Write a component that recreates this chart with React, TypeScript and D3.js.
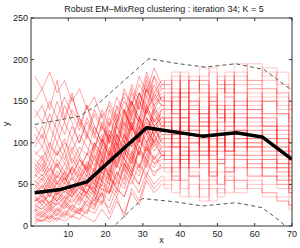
import React from 'react';
import * as d3 from 'd3';

// sample positions: zig-zag part (linear) and the step part on the right
const xLeft = [1, 3, 5, 7, 9, 11, 13, 15, 17, 19, 21, 23, 25, 27, 29, 31, 33, 35];
const xRight = [36.5, 39, 41, 43.7, 46.6, 48.9, 51, 53, 56, 60, 64, 67.9, 70.4];

const curvesLeft: number[][] = [
  [35, 30, 42, 38, 45, 40, 52, 48, 70, 95, 120, 140, 155, 130, 160, 145, 170, 150],
  [20, 25, 18, 30, 22, 35, 28, 40, 55, 48, 90, 75, 110, 95, 130, 115, 100, 120],
  [60, 75, 55, 80, 65, 90, 70, 85, 95, 110, 80, 120, 100, 140, 125, 110, 135, 120],
  [10, 15, 8, 20, 12, 25, 18, 30, 22, 45, 38, 60, 80, 70, 105, 90, 120, 100],
  [150, 165, 140, 175, 130, 160, 120, 145, 110, 135, 100, 125, 140, 115, 150, 130, 110, 140],
  [45, 55, 40, 60, 50, 70, 58, 75, 65, 100, 85, 130, 110, 160, 140, 175, 150, 165],
  [30, 35, 28, 40, 33, 38, 45, 40, 60, 55, 85, 70, 100, 125, 105, 140, 120, 130],
  [80, 70, 95, 85, 100, 90, 110, 95, 80, 105, 90, 70, 95, 80, 110, 90, 100, 85],
  [15, 10, 20, 12, 25, 18, 15, 30, 45, 35, 70, 55, 90, 75, 115, 95, 130, 110],
  [100, 120, 95, 130, 110, 140, 125, 105, 135, 115, 150, 130, 160, 145, 170, 155, 180, 165],
  [25, 20, 30, 25, 35, 28, 40, 35, 50, 45, 40, 65, 55, 85, 70, 95, 80, 90],
  [55, 45, 60, 50, 65, 55, 70, 60, 90, 75, 110, 95, 130, 150, 120, 165, 140, 155],
  [5, 12, 8, 15, 10, 20, 15, 25, 20, 40, 30, 55, 45, 70, 60, 85, 75, 80],
  [120, 105, 135, 115, 145, 125, 100, 130, 110, 95, 125, 105, 140, 120, 100, 130, 115, 125],
  [40, 50, 35, 55, 45, 60, 50, 65, 80, 70, 105, 90, 125, 110, 150, 135, 160, 145],
  [70, 85, 65, 90, 75, 95, 80, 70, 100, 85, 115, 100, 80, 120, 95, 110, 90, 105],
  [18, 22, 15, 28, 20, 32, 25, 45, 35, 60, 50, 80, 100, 85, 130, 110, 145, 125],
  [90, 80, 100, 85, 105, 75, 95, 85, 120, 100, 140, 120, 165, 145, 180, 160, 190, 170],
  [35, 25, 40, 30, 45, 35, 50, 40, 30, 55, 45, 35, 60, 50, 75, 60, 85, 70],
  [8, 5, 12, 6, 15, 10, 20, 14, 35, 25, 50, 40, 75, 60, 95, 80, 110, 95],
  [65, 80, 60, 75, 55, 70, 85, 65, 95, 80, 115, 100, 135, 120, 100, 145, 125, 140],
  [180, 165, 185, 160, 175, 150, 165, 140, 155, 130, 145, 125, 150, 135, 160, 140, 155, 145],
  [28, 38, 25, 42, 30, 48, 35, 55, 40, 70, 55, 90, 70, 110, 85, 125, 100, 115],
  [50, 40, 55, 45, 60, 40, 55, 70, 50, 80, 60, 95, 75, 60, 90, 70, 105, 85],
  [12, 18, 10, 22, 14, 26, 18, 35, 25, 55, 40, 75, 95, 80, 120, 100, 140, 120],
  [95, 110, 85, 115, 90, 120, 100, 125, 105, 140, 120, 155, 135, 170, 150, 185, 160, 175],
  [42, 35, 48, 38, 52, 42, 58, 48, 45, 65, 55, 50, 75, 65, 90, 80, 70, 85],
  [22, 30, 20, 35, 25, 40, 30, 50, 40, 65, 50, 85, 65, 105, 85, 120, 95, 110],
  [75, 65, 85, 70, 90, 60, 80, 65, 55, 80, 60, 45, 70, 55, 40, 65, 50, 60],
  [38, 48, 35, 52, 40, 58, 45, 62, 50, 85, 65, 110, 90, 135, 115, 155, 135, 145],
  [3, 8, 5, 10, 6, 12, 8, 20, 15, 30, 22, 45, 35, 60, 50, 75, 65, 70],
  [110, 95, 120, 100, 125, 105, 130, 110, 95, 120, 100, 85, 110, 95, 120, 100, 115, 105],
  [48, 58, 45, 62, 52, 68, 55, 72, 60, 95, 75, 120, 100, 145, 125, 170, 145, 160],
  [32, 28, 38, 30, 42, 35, 48, 38, 70, 55, 95, 75, 60, 90, 70, 100, 80, 95],
  [130, 145, 120, 150, 125, 155, 130, 110, 140, 120, 105, 135, 115, 150, 130, 165, 145, 155],
  [18, 12, 22, 15, 28, 20, 35, 25, 30, 50, 40, 65, 50, 80, 65, 95, 75, 85],
  [58, 70, 52, 75, 60, 82, 65, 88, 72, 105, 85, 125, 105, 150, 130, 115, 140, 130],
  [25, 32, 22, 38, 28, 45, 32, 52, 38, 75, 58, 100, 80, 125, 105, 140, 120, 130],
  [85, 95, 75, 100, 80, 105, 85, 110, 90, 125, 100, 145, 120, 165, 140, 180, 155, 170],
  [10, 6, 14, 8, 18, 12, 22, 16, 40, 28, 60, 45, 35, 65, 50, 80, 60, 75],
  [62, 55, 70, 58, 75, 62, 80, 68, 100, 85, 70, 110, 90, 75, 105, 85, 120, 100],
  [45, 38, 52, 42, 58, 45, 65, 50, 85, 65, 110, 85, 140, 115, 160, 135, 180, 150],
  [140, 125, 150, 130, 155, 135, 115, 145, 120, 100, 130, 110, 95, 120, 105, 130, 110, 120],
  [30, 40, 25, 45, 35, 50, 40, 60, 45, 80, 60, 100, 80, 65, 95, 75, 110, 90],
  [52, 62, 48, 66, 55, 72, 60, 78, 65, 90, 75, 105, 85, 130, 110, 145, 125, 135],
  [20, 15, 25, 18, 30, 22, 15, 10, 5, 20, 8, 30, 15, 40, 25, 55, 40, 50],
  [70, 60, 75, 50, 65, 45, 55, 35, 25, 40, 15, 35, 10, 45, 30, 60, 45, 55],
];

const curvesRight: number[][] = [
  [140, 160, 130, 150, 120, 145, 130, 150, 125, 140, 120, 100, 90],
  [110, 95, 120, 100, 115, 90, 105, 95, 110, 100, 90, 85, 70],
  [125, 100, 130, 115, 95, 120, 100, 110, 130, 105, 115, 95, 80],
  [95, 110, 85, 100, 120, 95, 110, 90, 100, 85, 95, 75, 60],
  [130, 150, 115, 140, 125, 155, 135, 120, 145, 130, 150, 135, 110],
  [160, 175, 150, 180, 165, 155, 175, 160, 185, 170, 190, 160, 140],
  [120, 135, 110, 125, 140, 115, 130, 145, 120, 135, 125, 110, 95],
  [90, 75, 95, 80, 70, 90, 75, 85, 95, 80, 70, 65, 55],
  [105, 125, 100, 115, 90, 110, 95, 120, 100, 115, 105, 90, 75],
  [170, 185, 160, 175, 190, 165, 180, 170, 195, 175, 185, 170, 150],
  [85, 70, 95, 75, 90, 65, 80, 70, 85, 75, 60, 55, 45],
  [150, 135, 160, 140, 155, 130, 145, 165, 140, 155, 135, 120, 105],
  [75, 60, 85, 65, 55, 70, 50, 65, 80, 60, 70, 55, 40],
  [115, 130, 105, 120, 100, 125, 110, 95, 115, 100, 120, 105, 85],
  [140, 155, 130, 150, 135, 160, 145, 130, 150, 140, 160, 145, 125],
  [100, 85, 110, 90, 105, 80, 95, 110, 90, 100, 85, 75, 65],
  [130, 115, 140, 120, 135, 110, 125, 140, 115, 130, 120, 100, 85],
  [175, 160, 185, 165, 180, 190, 170, 185, 175, 195, 180, 185, 165],
  [70, 55, 80, 60, 45, 65, 50, 70, 55, 75, 60, 50, 40],
  [95, 80, 100, 85, 110, 90, 80, 100, 85, 95, 80, 70, 55],
  [135, 150, 125, 145, 130, 120, 140, 125, 135, 150, 130, 115, 100],
  [150, 165, 140, 160, 175, 150, 165, 155, 170, 150, 165, 155, 140],
  [110, 95, 120, 100, 85, 105, 90, 110, 95, 105, 90, 80, 65],
  [80, 95, 70, 90, 75, 60, 80, 65, 85, 70, 80, 65, 50],
  [125, 110, 135, 115, 130, 105, 120, 135, 110, 125, 115, 105, 90],
  [165, 180, 155, 175, 160, 185, 170, 160, 180, 165, 175, 160, 145],
  [80, 95, 70, 85, 100, 75, 90, 80, 95, 85, 75, 70, 60],
  [100, 115, 90, 110, 95, 85, 105, 90, 115, 95, 105, 90, 75],
  [55, 70, 45, 60, 35, 55, 40, 60, 45, 55, 40, 35, 25],
  [145, 130, 155, 135, 150, 125, 140, 155, 130, 145, 135, 120, 100],
  [70, 55, 80, 60, 75, 50, 65, 55, 70, 60, 50, 45, 35],
  [105, 120, 95, 110, 90, 115, 100, 120, 105, 115, 100, 90, 75],
  [155, 140, 165, 145, 160, 135, 150, 170, 145, 160, 150, 135, 115],
  [90, 105, 80, 95, 110, 85, 100, 90, 105, 95, 110, 95, 80],
  [150, 135, 160, 140, 125, 150, 135, 145, 160, 140, 150, 135, 120],
  [80, 65, 90, 70, 85, 60, 75, 90, 70, 80, 70, 60, 45],
  [125, 140, 115, 135, 120, 145, 130, 115, 135, 120, 130, 115, 100],
  [120, 105, 130, 110, 125, 100, 115, 130, 110, 120, 105, 95, 80],
  [170, 155, 180, 160, 175, 150, 165, 180, 160, 175, 165, 150, 130],
  [65, 80, 55, 70, 85, 60, 75, 65, 80, 70, 60, 50, 40],
  [95, 110, 85, 100, 80, 95, 115, 90, 105, 95, 85, 75, 60],
  [160, 145, 175, 150, 170, 140, 160, 175, 150, 165, 155, 140, 120],
  [115, 100, 125, 105, 120, 95, 110, 100, 115, 105, 95, 85, 70],
  [85, 100, 75, 90, 105, 80, 95, 85, 100, 90, 80, 70, 55],
  [130, 115, 140, 120, 135, 110, 125, 140, 120, 130, 120, 105, 90],
  [45, 60, 35, 50, 30, 45, 35, 55, 40, 50, 40, 30, 20],
  [50, 40, 55, 35, 50, 30, 45, 40, 55, 45, 35, 30, 25],
];

// cluster mean and +/- 2 sd bounds
const meanX = [1, 8, 15, 31, 46, 55, 62, 70];
const meanY = [40, 44, 53, 118, 108, 112, 107, 80];
const upperX = [1, 13, 17, 26, 31.6, 39.7, 46.8, 54.9, 62.5, 70];
const upperY = [122, 132, 143, 179, 201, 195, 191, 195, 188, 163];
const lowerX = [20, 22.3, 29.9, 38.8, 45.9, 54.9, 62, 66.5, 68.2, 70];
const lowerY = [-10, 0, 33, 29, 24, 28, 22, 7, 0, -6];

const xTicks = [10, 20, 30, 40, 50, 60, 70];
const yTicks = [0, 50, 100, 150, 200, 250];

const W = 300;
const H = 248;
const m = { left: 31, right: 292, top: 18, bottom: 226 };
const font = 'Liberation Sans, Arial, sans-serif';

export default function App() {
  const x = d3.scaleLinear().domain([0, 70]).range([m.left, m.right]);
  const y = d3.scaleLinear().domain([0, 250]).range([m.bottom, m.top]);

  const lin = d3
    .line<[number, number]>()
    .x((d) => x(d[0]))
    .y((d) => y(d[1]));
  const step = d3
    .line<[number, number]>()
    .x((d) => x(d[0]))
    .y((d) => y(d[1]))
    .curve(d3.curveStep);

  const zip = (xs: number[], ys: number[]) => xs.map((v, i) => [v, ys[i]] as [number, number]);

  const tl = 3;

  return (
    <div>
      <style>{`body{margin:0;background:#fff}`}</style>
      <svg width={W} height={H} style={{ display: 'block' }}>
        <defs>
          <clipPath id="plot">
            <rect x={m.left} y={m.top} width={m.right - m.left} height={m.bottom - m.top} />
          </clipPath>
        </defs>
        <rect x={m.left} y={m.top} width={m.right - m.left} height={m.bottom - m.top} fill="#fff" />
        <g clipPath="url(#plot)">
          {curvesLeft.map((c, i) => {
            const left = zip(xLeft, c);
            const right = [left[left.length - 1], ...zip(xRight, curvesRight[i])];
            return (
              <g key={i} fill="none" stroke="#ff0000" strokeWidth={0.8}>
                <path d={lin(left) || ''} strokeOpacity={0.45} />
                <path d={step(right) || ''} strokeOpacity={0.28} />
              </g>
            );
          })}
          <path
            d={lin(zip(upperX, upperY)) || ''}
            fill="none"
            stroke="#555"
            strokeWidth={1}
            strokeDasharray="4,3"
          />
          <path
            d={lin(zip(lowerX, lowerY)) || ''}
            fill="none"
            stroke="#555"
            strokeWidth={1}
            strokeDasharray="4,3"
          />
          <path d={lin(zip(meanX, meanY)) || ''} fill="none" stroke="#000" strokeWidth={3.5} strokeLinejoin="round" />
        </g>

        {/* box with inward ticks on all sides */}
        <rect
          x={m.left}
          y={m.top}
          width={m.right - m.left}
          height={m.bottom - m.top}
          fill="none"
          stroke="#333"
          strokeWidth={1}
        />
        {xTicks.map((t) => (
          <g key={'x' + t}>
            <line x1={x(t)} x2={x(t)} y1={m.bottom} y2={m.bottom - tl} stroke="#333" />
            <line x1={x(t)} x2={x(t)} y1={m.top} y2={m.top + tl} stroke="#333" />
            <text x={x(t)} y={m.bottom + 11} textAnchor="middle" fontSize={9} fontFamily={font} fill="#222">
              {t}
            </text>
          </g>
        ))}
        {yTicks.map((t) => (
          <g key={'y' + t}>
            <line x1={m.left} x2={m.left + tl} y1={y(t)} y2={y(t)} stroke="#333" />
            <line x1={m.right} x2={m.right - tl} y1={y(t)} y2={y(t)} stroke="#333" />
            <text x={m.left - 3} y={y(t) + 3} textAnchor="end" fontSize={9} fontFamily={font} fill="#222">
              {t}
            </text>
          </g>
        ))}
        <text x={(m.left + m.right) / 2} y={243} textAnchor="middle" fontSize={9} fontFamily={font} fill="#222">
          x
        </text>
        <text
          transform={`translate(9,${(m.top + m.bottom) / 2 + 2}) rotate(-90)`}
          textAnchor="middle"
          fontSize={9}
          fontFamily={font}
          fill="#222"
        >
          y
        </text>
        <text x={164} y={12} textAnchor="middle" fontSize={9} fontFamily={font} fill="#222">
          Robust EM–MixReg clustering : iteration 34; K = 5
        </text>
      </svg>
    </div>
  );
}
